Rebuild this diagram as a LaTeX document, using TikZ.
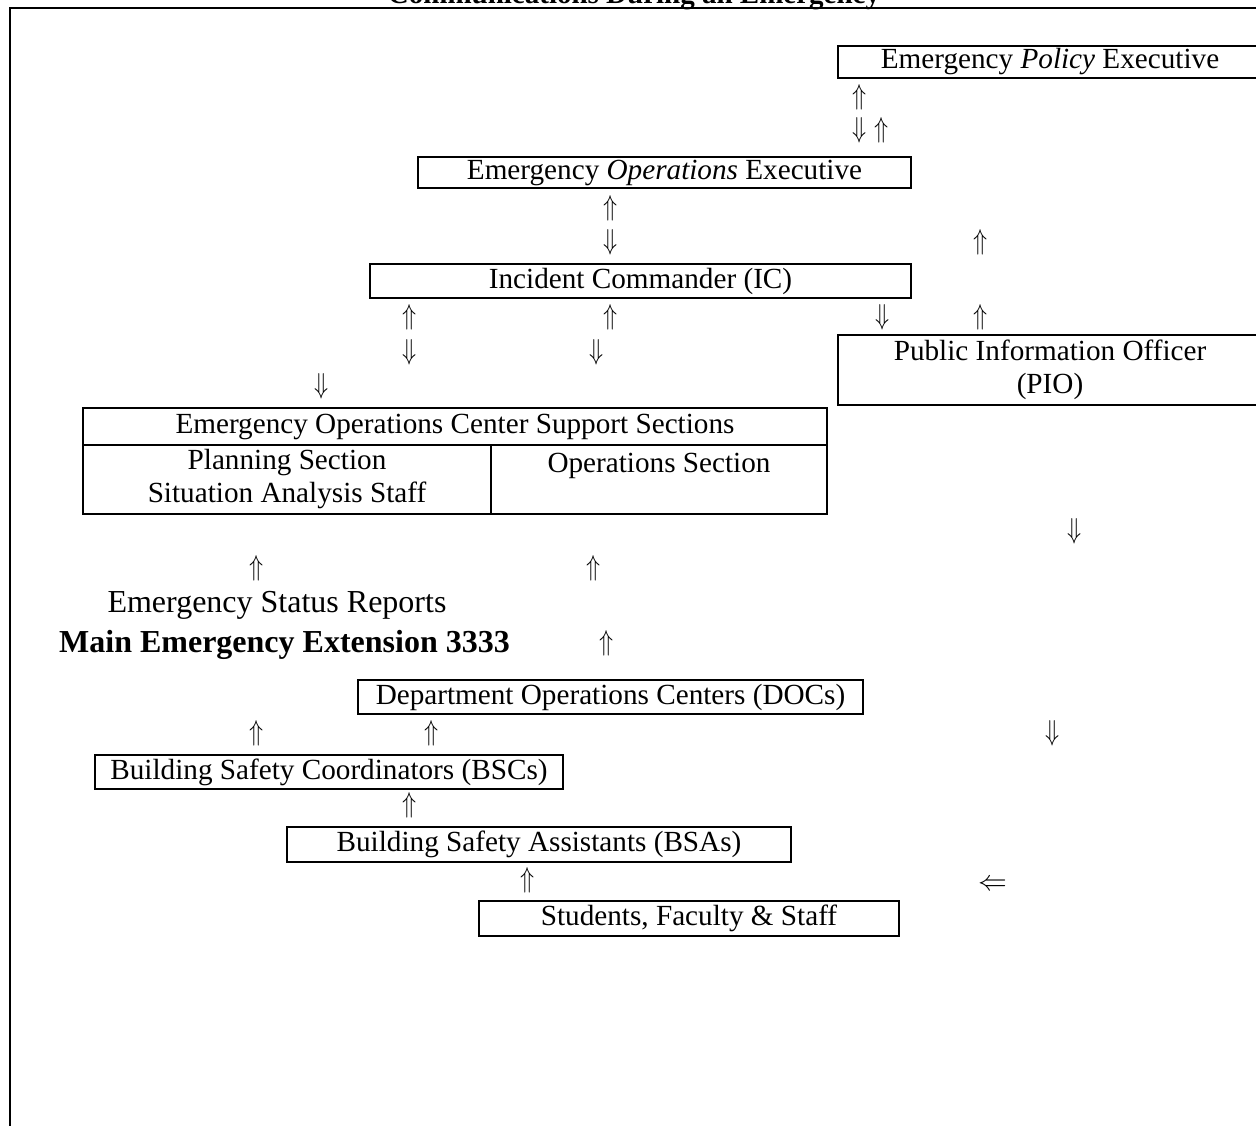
\documentclass[tikz,border=0pt]{standalone}
\usepackage{fontspec}
\setmainfont{Liberation Serif}
\usetikzlibrary{positioning}
\newcommand{\boxfont}{\fontsize{14.6}{16.5}\selectfont}
\newcommand{\bigfont}{\fontsize{16}{18}\selectfont}
\newcommand{\uparr}{\scalebox{0.8}[1]{$\Uparrow$}}
\newcommand{\dnarr}{\scalebox{0.8}[1]{$\Downarrow$}}
\newcommand{\ltarr}{$\Leftarrow$}

\begin{document}
\begin{tikzpicture}[
    x=0.5pt, y=-0.5pt,
    box/.style 2 args={draw, line width=1pt, inner sep=0pt, outer sep=0pt, minimum width=#1, minimum height=#2, align=center, font=\boxfont},
    arr/.style={inner sep=0pt, font=\boxfont},
    note/.style={inner sep=0pt, font=\bigfont},
]
\useasboundingbox (0,0) rectangle (1256,1125);
\clip (0,0) rectangle (1256,1125);

% Title and frame
\node[anchor=base, inner sep=0pt, font=\fontsize{14.5}{16}\selectfont\bfseries] (title) at (634,3) {Communications During an Emergency};
\draw[line width=1pt] (1270,8) -- (10,8) -- (10,1140);

% Command chain
\node[box={212pt}{16pt}] (policy) at (1050,62) {Emergency \textit{Policy} Executive};
\node[box={246.5pt}{15.5pt}] (eoe) at (664.5,172.5) {Emergency \textit{Operations} Executive};
\node[box={270.5pt}{17pt}] (ic) at (640.5,281) {Incident Commander (IC)};
\node[box={212pt}{35pt}] (pio) at (1050,370) {Public Information Officer\\(PIO)};

% EOC support sections
\node[box={372pt}{18.5pt}] (eoc) at (455,426.5) {Emergency Operations Center Support Sections};
\node[box={204pt}{34.5pt}, anchor=north west] (plan) at (eoc.south west) {Planning Section\\Situation Analysis Staff};
\node[box={168pt}{34.5pt}, anchor=north east] (ops) at (eoc.south east) {Operations Section\\\mbox{}};

% Reporting labels
\node[note] (reports) at (277,605) {Emergency Status Reports};
\node[note, font=\bigfont\bfseries] (ext) at (284.5,645) {Main Emergency Extension 3333};

% Lower levels
\node[box={252.5pt}{17pt}] (doc) at (610.5,697) {Department Operations Centers (DOCs)};
\node[box={234pt}{17pt}] (bsc) at (329,772) {Building Safety Coordinators (BSCs)};
\node[box={252pt}{17.5pt}] (bsa) at (539,844.5) {Building Safety Assistants (BSAs)};
\node[box={210pt}{17.5pt}] (sfs) at (689,918.5) {Students, Faculty \& Staff};

% Arrow glyphs
\node[arr] (a1) at (860,97) {\uparr};
\node[arr] (a2) at (860,130) {\dnarr};
\node[arr] (a3) at (882,130) {\uparr};
\node[arr] (a4) at (611,208) {\uparr};
\node[arr] (a5) at (611,242) {\dnarr};
\node[arr] (a6) at (981,242) {\uparr};
\node[arr] (a7) at (410,317) {\uparr};
\node[arr] (a8) at (611,317) {\uparr};
\node[arr] (a9) at (883,317) {\dnarr};
\node[arr] (a10) at (981,317) {\uparr};
\node[arr] (a11) at (410,352) {\dnarr};
\node[arr] (a12) at (597,352) {\dnarr};
\node[arr] (a13) at (322,386) {\dnarr};
\node[arr] (a14) at (1075,531) {\dnarr};
\node[arr] (a15) at (257,568) {\uparr};
\node[arr] (a16) at (594,568) {\uparr};
\node[arr] (a17) at (607,643) {\uparr};
\node[arr] (a18) at (257,733) {\uparr};
\node[arr] (a19) at (432,733) {\uparr};
\node[arr] (a20) at (1053,733) {\dnarr};
\node[arr] (a21) at (410,805) {\uparr};
\node[arr] (a22) at (528,880) {\uparr};
\node[arr] (a23) at (993,885) {\ltarr};

\end{tikzpicture}
\end{document}
